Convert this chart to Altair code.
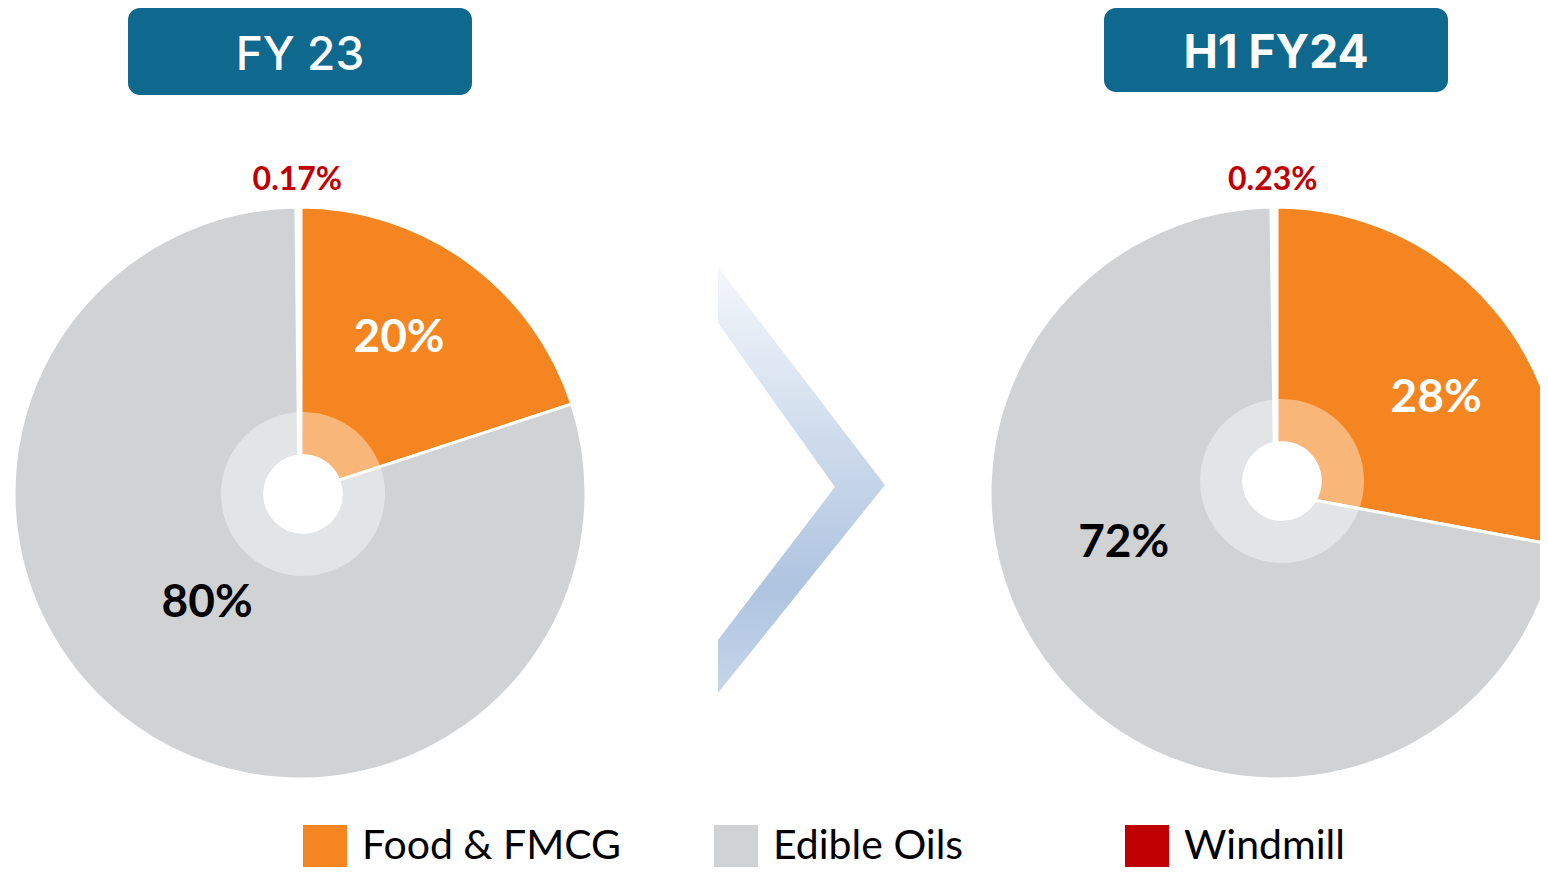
import math
import altair as alt
import pandas as pd

# ---------------- data ----------------
categories = ["Food & FMCG", "Edible Oils", "Windmill"]
colors = ["#F58520", "#D1D2D4", "#C00000"]

fy23_values = [20.0, 80.0, 0.17]
fy23_labels = ["20%", "80%", "0.17%"]

h1fy24_values = [28.0, 72.0, 0.23]
h1fy24_labels = ["28%", "72%", "0.23%"]

period_titles = ["FY 23", "H1 FY24"]

# ---------------- layout (styling) ----------------
W, H = 1532, 859
R = 286
color_scale = alt.Scale(domain=categories, range=colors)

legend = alt.Legend(
    orient="none", legendX=295, legendY=817, direction="horizontal",
    columns=3, gridAlign="all", columnPadding=92,
    symbolType="square", symbolSize=44 * 44, symbolStrokeWidth=0,
    labelFont="Lato", labelFontSize=41, labelColor="black",
    labelOffset=15, labelLimit=600, title=None, padding=0,
)


def pie_df(values, labels):
    return pd.DataFrame({
        "category": categories,
        "value": values,
        "label": labels,
        "order": list(range(len(categories))),
    })


def one_row():
    return pd.DataFrame({"k": [0]})


def pie_layers(df, cx, cy, ring_cx, ring_cy, label_styles):
    base = alt.Chart(df)
    theta = alt.Theta("value:Q", stack=True)
    order = alt.Order("order:Q")
    layers = []
    layers.append(
        base.mark_arc(radius=R, stroke="white").encode(
            theta=theta, order=order,
            color=alt.Color("category:N", scale=color_scale, legend=legend,
                            sort=categories),
            strokeWidth=alt.condition(alt.datum.category == "Windmill",
                                      alt.value(5), alt.value(3)),
            x=alt.value(cx), y=alt.value(cy),
        )
    )
    # translucent inner ring and white hole
    layers.append(
        alt.Chart(one_row()).mark_arc(
            theta=0, theta2=2 * math.pi, radius=82, radius2=40,
            fill="white", opacity=0.4, strokeWidth=0,
        ).encode(x=alt.value(ring_cx), y=alt.value(ring_cy))
    )
    layers.append(
        alt.Chart(one_row()).mark_arc(
            theta=0, theta2=2 * math.pi, radius=40, radius2=0,
            fill="white", opacity=1, strokeWidth=0,
        ).encode(x=alt.value(ring_cx), y=alt.value(ring_cy))
    )
    # labels
    for i, st in enumerate(label_styles):
        layers.append(
            base.mark_text(
                radius=st["r"], dx=st["dx"], dy=st["dy"],
                font="Lato", fontWeight="bold", fontSize=st["size"],
                color=st["color"], align="center", baseline="middle",
            ).encode(
                theta=theta, order=order,
                text=alt.condition(alt.datum.order == i, "label:N", alt.value("")),
                x=alt.value(cx), y=alt.value(cy),
            )
        )
    return layers


fy23 = pie_df(fy23_values, fy23_labels)
h1 = pie_df(h1fy24_values, h1fy24_labels)

left_layers = pie_layers(
    fy23, 292, 485, 295, 486,
    [
        {"r": 184, "dx": -9, "dy": -6, "size": 46, "color": "white"},
        {"r": 144, "dx": -9, "dy": -7, "size": 46, "color": "black"},
        {"r": 313, "dx": -1, "dy": 0, "size": 32, "color": "#C00000"},
    ],
)
right_layers = pie_layers(
    h1, 1268, 485, 1274, 473,
    [
        {"r": 186, "dx": 17, "dy": 24, "size": 46, "color": "white"},
        {"r": 160, "dx": -30, "dy": -53, "size": 46, "color": "black"},
        {"r": 313, "dx": -1, "dy": 0, "size": 32, "color": "#C00000"},
    ],
)

# ---------------- headers ----------------
titles_df = pd.DataFrame({"title": period_titles, "idx": [0, 1]})
header_boxes = [
    {"x": 120, "x2": 464, "y": 0, "y2": 87, "tx": 292, "ty": 62, "w": 500},
    {"x": 1096, "x2": 1440, "y": 0, "y2": 84, "tx": 1268, "ty": 60, "w": 700},
]
header_layers = []
for i, hb in enumerate(header_boxes):
    hbase = alt.Chart(titles_df).transform_filter(alt.datum.idx == i)
    header_layers.append(
        hbase.mark_rect(cornerRadius=12, color="#0F688D").encode(
            x=alt.value(hb["x"]), x2=alt.value(hb["x2"]),
            y=alt.value(hb["y"]), y2=alt.value(hb["y2"]),
        )
    )
    header_layers.append(
        hbase.mark_text(
            font="Inter", fontSize=46, fontWeight=hb["w"], color="white",
            align="center", baseline="alphabetic",
        ).encode(text="title:N", x=alt.value(hb["tx"]), y=alt.value(hb["ty"]))
    )

# ---------------- chevron ----------------
chevron_path = (
    "M -0.392 -1 L 0.392 0.023 L -0.392 1 L -0.392 0.751 "
    "L 0.157 0.033 L -0.392 -0.737 Z"
)
chevron = alt.Chart(one_row()).mark_point(
    shape=chevron_path, size=426 * 426, filled=True, strokeWidth=0, opacity=1,
    fill=alt.Gradient(
        gradient="linear", x1=0, x2=0, y1=0, y2=1,
        stops=[
            alt.GradientStop(offset=0, color="#F4F7FB"),
            alt.GradientStop(offset=0.75, color="#AFC4E0"),
            alt.GradientStop(offset=1, color="#C6D5EA"),
        ],
    ),
).encode(x=alt.value(793.5), y=alt.value(472))

chart = alt.layer(
    *left_layers, *right_layers, *header_layers, chevron
).resolve_scale(theta="independent").properties(
    width=W, height=H, padding=0, autosize=alt.AutoSizeParams(type="none"),
    background="white",
).configure_view(stroke=None)

chart.save("out.html", embed_options={"renderer": "svg", "actions": False})
